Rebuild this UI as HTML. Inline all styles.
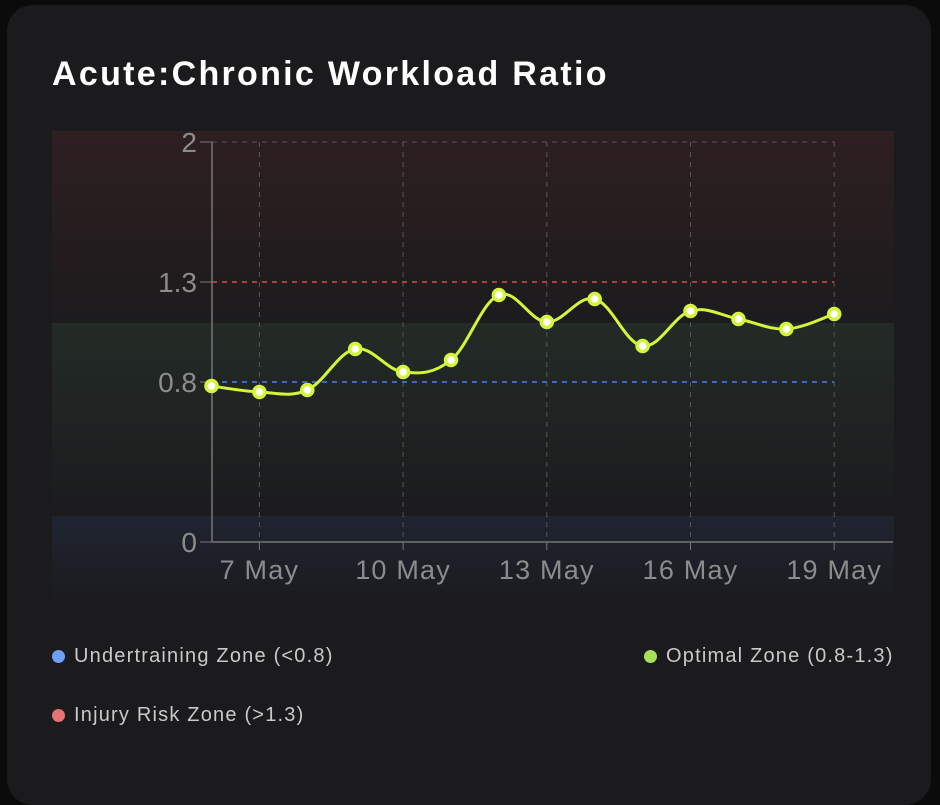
<!DOCTYPE html>
<html><head><meta charset="utf-8"><style>
body{margin:0;background:#0b0b0c;width:940px;height:762px;overflow:hidden;font-family:"Liberation Sans",sans-serif}
#card{position:absolute;left:7px;top:5px;width:924px;height:800px;background:#1b1b1d;border-radius:26px}
#title{position:absolute;left:52px;top:55px;color:#fff;font-size:34px;font-weight:bold;letter-spacing:2.3px}
.leg{position:absolute;color:#c9c9c9;font-size:20px;letter-spacing:1.2px;display:flex;align-items:center}
.dot{width:13px;height:13px;border-radius:50%;margin-right:9px}
</style></head><body>
<div id="card"></div>
<div id="title">Acute:Chronic Workload Ratio</div>
<svg id="chart" width="940" height="762" style="position:absolute;left:0;top:0">
<defs>
<linearGradient id="gr" x1="0" y1="0" x2="0" y2="1"><stop offset="0" stop-color="#2e1f21"/><stop offset="1" stop-color="#1c1b1d"/></linearGradient>
<linearGradient id="gg" x1="0" y1="0" x2="0" y2="1"><stop offset="0" stop-color="#232b27"/><stop offset="1" stop-color="#1b1b1d"/></linearGradient>
<linearGradient id="gb" x1="0" y1="0" x2="0" y2="1"><stop offset="0" stop-color="#1f2431"/><stop offset="1" stop-color="#1b1b1d"/></linearGradient>
</defs>
<rect x="52" y="131" width="842" height="192" fill="url(#gr)"/>
<rect x="52" y="323" width="842" height="193" fill="url(#gg)"/>
<rect x="52" y="516" width="842" height="91" fill="url(#gb)"/>
<g id="grid"></g><g id="axes"></g><path id="line" fill="none" stroke="#d4f53c" stroke-width="3"/><g id="pts"></g>
</svg>
<div class="leg" style="left:52px;top:645px"><div class="dot" style="background:#6e9ff2"></div>Undertraining Zone (&lt;0.8)</div>
<div class="leg" style="left:644px;top:645px"><div class="dot" style="background:#a6e05a"></div>Optimal Zone (0.8-1.3)</div>
<div class="leg" style="left:52px;top:704px"><div class="dot" style="background:#e57373"></div>Injury Risk Zone (&gt;1.3)</div>
<script>
const days=[6,7,8,9,10,11,12,13,14,15,16,17,18,19];
const values=[0.78,0.75,0.76,0.965,0.85,0.91,1.235,1.10,1.215,0.98,1.155,1.115,1.065,1.14];
const yTicks=[0,0.8,1.3,2];
const xTickDays=[7,10,13,16,19];
const NS="http://www.w3.org/2000/svg";
const x=d=>211.5+(d-6)*47.9;
const y=v=>542-v*200;
function mk(tag,attrs,parent,text){const e=document.createElementNS(NS,tag);for(const k in attrs)e.setAttribute(k,attrs[k]);if(text!==undefined)e.textContent=text;document.getElementById(parent).appendChild(e);return e;}
const grid='grid',axes='axes';
xTickDays.forEach(d=>{const l=mk('line',{x1:x(d),x2:x(d),y1:y(2),y2:y(0),stroke:'#555',"stroke-dasharray":'5 5'},grid);


const t=mk('text',{x:x(d),y:579,fill:'#8c8c8c',"font-size":27,"letter-spacing":1.2,"text-anchor":'middle'},axes,d+' May');


mk('line',{x1:x(d),x2:x(d),y1:542,y2:550,stroke:'#777'},axes);});
const g2=mk('line',{x1:212,x2:x(19),y1:y(2),y2:y(2),stroke:'#555',"stroke-dasharray":'5 5'},grid);


const r=mk('line',{x1:212,x2:x(19),y1:y(1.3),y2:y(1.3),stroke:'#e0474c',"stroke-width":1.5,"stroke-dasharray":'5 5'},grid);


const b=mk('line',{x1:212,x2:x(19),y1:y(0.8),y2:y(0.8),stroke:'#4a7ff0',"stroke-width":1.5,"stroke-dasharray":'5 5'},grid);


mk('line',{x1:212,x2:212,y1:y(2),y2:y(0),stroke:'#777',"stroke-width":1.5},axes);
mk('line',{x1:212,x2:893,y1:y(0),y2:y(0),stroke:'#777',"stroke-width":1.5},axes);
yTicks.forEach(v=>{mk('line',{x1:200,x2:212,y1:y(v),y2:y(v),stroke:'#777'},axes);
const t=mk('text',{x:197,y:y(v)+10,fill:'#8c8c8c',"font-size":28,"text-anchor":'end'},axes,String(v));

});
const P=days.map((d,i)=>[x(d),y(values[i])]);
let dstr='M'+P[0][0]+','+P[0][1];
for(let i=0;i<P.length-1;i++){const p0=P[Math.max(0,i-1)],p1=P[i],p2=P[i+1],p3=P[Math.min(P.length-1,i+2)];const t=0.18;
dstr+=` C${p1[0]+(p2[0]-p0[0])*t},${p1[1]+(p2[1]-p0[1])*t} ${p2[0]-(p3[0]-p1[0])*t},${p2[1]-(p3[1]-p1[1])*t} ${p2[0]},${p2[1]}`;}
document.getElementById('line').setAttribute('d',dstr);
P.forEach(p=>{const c=mk('circle',{cx:p[0],cy:p[1],r:5.5,fill:'#fff',stroke:'#d4f53c',"stroke-width":3.5},'pts');

});
</script>
</body></html>
